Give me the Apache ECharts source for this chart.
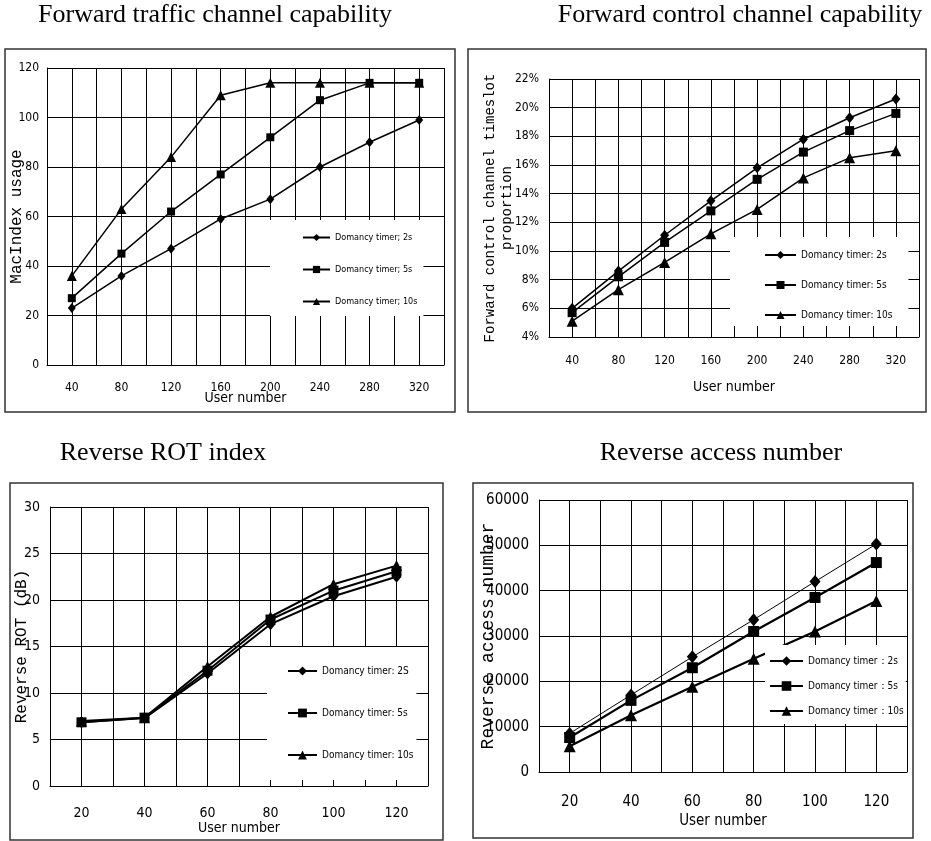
<!DOCTYPE html>
<html>
<head>
<meta charset="utf-8">
<script src="https://cdn.jsdelivr.net/npm/echarts@6/dist/echarts.min.js"></script>
<style>
  html, body { margin: 0; padding: 0; background: #fff; }
  .panel { position: absolute; }
</style>
</head>
<body>
<div id="c1" class="panel" style="left:0;top:0;width:465px;height:430px"></div>
<div id="c2" class="panel" style="left:465px;top:0;width:466px;height:430px"></div>
<div id="c3" class="panel" style="left:0;top:430px;width:465px;height:411px"></div>
<div id="c4" class="panel" style="left:465px;top:430px;width:466px;height:411px"></div>
<script>
// user counts on the x axis
var usersTop = [40, 80, 120, 160, 200, 240, 280, 320]
var usersBottom = [20, 40, 60, 80, 100, 120]

// forward traffic channel: MacIndex usage
var mac2s = [23, 36, 47, 59, 67, 80, 90, 99]
var mac5s = [27, 45, 62, 77, 92, 107, 114, 114]
var mac10s = [36, 63, 84, 109, 114, 114, 114, 114]

// forward control channel timeslot proportion (%)
var fcc2s = [6.0, 8.6, 11.1, 13.5, 15.8, 17.8, 19.3, 20.6]
var fcc5s = [5.7, 8.2, 10.6, 12.8, 15.0, 16.9, 18.4, 19.6]
var fcc10s = [5.1, 7.3, 9.2, 11.2, 12.9, 15.1, 16.5, 17.0]

// reverse ROT (dB)
var rot2s = [6.85, 7.3, 12.1, 17.4, 20.4, 22.5]
var rot5s = [6.85, 7.35, 12.4, 17.9, 21.0, 23.1]
var rot10s = [7.0, 7.35, 12.85, 18.2, 21.7, 23.7]

// reverse access number
var acc2s = [8500, 17000, 25400, 33600, 42000, 50300]
var acc5s = [7600, 15800, 23000, 31000, 38500, 46200]
var acc10s = [5700, 12500, 18800, 25000, 31000, 37700]

var NARROW = "'Liberation Sans Narrow', 'DejaVu Sans Condensed', 'Arial Narrow', sans-serif"
var MONO = "'Liberation Mono', 'DejaVu Sans Mono', monospace"
var SERIF = "'Liberation Serif', 'Times New Roman', serif"

function lineSeries (name, users, values, symbol, size, width) {
  return {
    name: name,
    type: 'line',
    data: users.map(function (u, i) { return [u, values[i]] }),
    symbol: symbol,
    symbolSize: size,
    lineStyle: { color: '#000', width: width },
    itemStyle: { color: '#000' },
    animation: false
  }
}

function valueAxis (o) {
  return {
    type: 'value',
    min: o.min,
    max: o.max,
    interval: o.interval,
    name: o.name,
    nameLocation: 'middle',
    nameGap: o.nameGap,
    nameMoveOverlap: false,
    nameTextStyle: o.nameStyle,
    axisLine: { show: true, lineStyle: { color: '#000', width: 1 } },
    axisTick: { show: false },
    splitLine: { show: true, lineStyle: { color: '#000', width: 1 } },
    axisLabel: {
      formatter: o.formatter || function (v) { return String(v) },
      margin: o.margin,
      fontFamily: NARROW,
      fontSize: o.labelSize,
      color: '#000'
    }
  }
}

function gridAt (left, top, width, height) {
  // fixed plot rectangle, no automatic shrinking for labels
  return { left: left, top: top, width: width, height: height, containLabel: false, outerBoundsMode: 'none' }
}

function frame (x, y, w, h) {
  return {
    type: 'rect',
    shape: { x: x, y: y, width: w, height: h },
    style: { fill: 'none', stroke: '#333', lineWidth: 1.5 },
    silent: true
  }
}

function titleOf (text, x, y) {
  return {
    text: text,
    left: x,
    top: y,
    textAlign: 'center',
    padding: 0,
    textStyle: { fontFamily: SERIF, fontSize: 26, fontWeight: 'normal', color: '#000' }
  }
}

// 1. Forward traffic channel capability
var names1 = ['Domancy timer; 2s', 'Domancy timer; 5s', 'Domancy timer; 10s']
var opt1 = {
  animation: false,
  title: titleOf('Forward traffic channel capability', 215, 2),
  graphic: [frame(5, 49, 450, 363)],
  grid: gridAt(47, 68, 397, 297),
  xAxis: valueAxis({
    min: 20, max: 340, interval: 20, margin: 17, labelSize: 12,
    formatter: function (v) { return v % 40 === 0 ? String(v) : '' },
    name: 'User number', nameGap: 26,
    nameStyle: { fontFamily: NARROW, fontSize: 14, color: '#000' }
  }),
  yAxis: valueAxis({
    min: 0, max: 120, interval: 20, margin: 8, labelSize: 12,
    name: 'MacIndex usage', nameGap: 22,
    nameStyle: { fontFamily: MONO, fontSize: 16, color: '#000' }
  }),
  legend: {
    orient: 'vertical', left: 270, top: 220,
    padding: [13, 6, 10, 32], itemWidth: 27, itemHeight: 9, itemGap: 23,
    backgroundColor: '#fff',
    textStyle: { fontFamily: NARROW, fontSize: 9, color: '#000' },
    data: names1
  },
  series: [
    lineSeries(names1[0], usersTop, mac2s, 'diamond', [8, 10], 1.5),
    lineSeries(names1[1], usersTop, mac5s, 'rect', 8, 1.5),
    lineSeries(names1[2], usersTop, mac10s, 'triangle', 10, 1.5)
  ]
}

// 2. Forward control channel capability
var names2 = ['Domancy timer: 2s', 'Domancy timer: 5s', 'Domancy timer: 10s']
var opt2 = {
  animation: false,
  title: titleOf('Forward control channel capability', 275, 2),
  graphic: [frame(3, 49, 458, 363)],
  grid: gridAt(84, 79, 370, 258),
  xAxis: valueAxis({
    min: 20, max: 340, interval: 20, margin: 18, labelSize: 12,
    formatter: function (v) { return v % 40 === 0 ? String(v) : '' },
    name: 'User number', nameGap: 43,
    nameStyle: { fontFamily: NARROW, fontSize: 14, color: '#000' }
  }),
  yAxis: valueAxis({
    min: 4, max: 22, interval: 2, margin: 10, labelSize: 12,
    formatter: function (v) { return v + '%' },
    name: 'Forward control channel timeslot\nproportion', nameGap: 33,
    nameStyle: { fontFamily: MONO, fontSize: 14, lineHeight: 17, color: '#000' }
  }),
  legend: {
    orient: 'vertical', left: 265, top: 237,
    padding: [13, 16, 6, 34], itemWidth: 31, itemHeight: 10, itemGap: 20,
    backgroundColor: '#fff',
    textStyle: { fontFamily: NARROW, fontSize: 10, color: '#000' },
    data: names2
  },
  series: [
    lineSeries(names2[0], usersTop, fcc2s, 'diamond', [9, 11], 1.5),
    lineSeries(names2[1], usersTop, fcc5s, 'rect', 9, 1.5),
    lineSeries(names2[2], usersTop, fcc10s, 'triangle', 11, 1.5)
  ]
}

// 3. Reverse ROT index
var names3 = ['Domancy timer: 2S', 'Domancy timer: 5s', 'Domancy timer: 10s']
var opt3 = {
  animation: false,
  title: titleOf('Reverse ROT index', 163, 10),
  graphic: [frame(10, 53, 433, 357)],
  grid: gridAt(50, 77, 378, 279),
  xAxis: valueAxis({
    min: 10, max: 130, interval: 10, margin: 20, labelSize: 14,
    formatter: function (v) { return v % 20 === 0 ? String(v) : '' },
    name: 'User number', nameGap: 35,
    nameStyle: { fontFamily: NARROW, fontSize: 14, color: '#000' }
  }),
  yAxis: valueAxis({
    min: 0, max: 30, interval: 5, margin: 10, labelSize: 14,
    name: 'Reverse ROT (dB)', nameGap: 20,
    nameStyle: { fontFamily: MONO, fontSize: 16, color: '#000' }
  }),
  legend: {
    orient: 'vertical', left: 267, top: 217,
    padding: [19, 3, 20, 20], itemWidth: 29, itemHeight: 11, itemGap: 32,
    backgroundColor: '#fff',
    textStyle: { fontFamily: NARROW, fontSize: 10, color: '#000' },
    data: names3
  },
  series: [
    lineSeries(names3[0], usersBottom, rot2s, 'diamond', [10, 12], 2),
    lineSeries(names3[1], usersBottom, rot5s, 'rect', 10, 2),
    lineSeries(names3[2], usersBottom, rot10s, 'triangle', 11, 2)
  ]
}

// 4. Reverse access number
var names4 = ['Domancy timer：2s', 'Domancy timer：5s', 'Domancy timer：10s']
var opt4 = {
  animation: false,
  title: titleOf('Reverse access number', 256, 10),
  graphic: [frame(8, 53, 440, 355)],
  grid: gridAt(74, 70, 368, 272),
  xAxis: valueAxis({
    min: 10, max: 130, interval: 10, margin: 23, labelSize: 15,
    formatter: function (v) { return v % 20 === 0 ? String(v) : '' },
    name: 'User number', nameGap: 42,
    nameStyle: { fontFamily: NARROW, fontSize: 15, color: '#000' }
  }),
  yAxis: valueAxis({
    min: 0, max: 60000, interval: 10000, margin: 10, labelSize: 15,
    name: 'Reverse access number', nameGap: 42,
    nameStyle: { fontFamily: MONO, fontSize: 18, color: '#000' }
  }),
  legend: {
    orient: 'vertical', left: 300, top: 215,
    padding: [11, 2, 8, 4], itemWidth: 33, itemHeight: 12, itemGap: 15,
    backgroundColor: '#fff',
    textStyle: { fontFamily: NARROW, fontSize: 10, color: '#000' },
    data: names4
  },
  series: [
    lineSeries(names4[0], usersBottom, acc2s, 'diamond', [11, 13], 1),
    lineSeries(names4[1], usersBottom, acc5s, 'rect', 11, 2.2),
    lineSeries(names4[2], usersBottom, acc10s, 'triangle', 12, 2.2)
  ]
}

echarts.init(document.getElementById('c1')).setOption(opt1)
echarts.init(document.getElementById('c2')).setOption(opt2)
echarts.init(document.getElementById('c3')).setOption(opt3)
echarts.init(document.getElementById('c4')).setOption(opt4)
</script>
</body>
</html>
